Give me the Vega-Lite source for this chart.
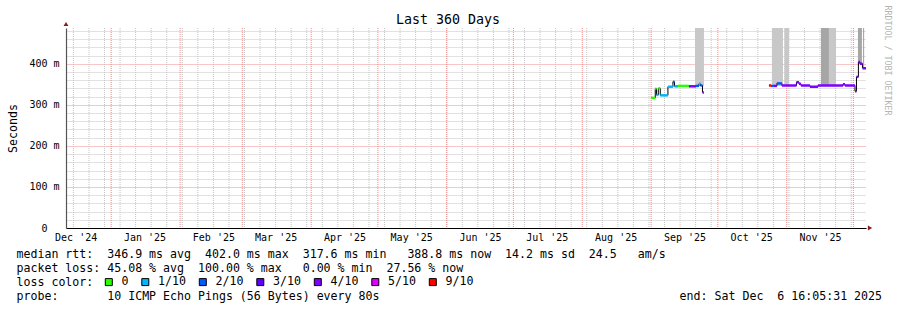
{
  "$schema": "https://vega.github.io/schema/vega-lite/v6.json",
  "width": 800,
  "height": 200,
  "autosize": {"type": "none"},
  "padding": {"left": 66, "top": 28, "right": 31, "bottom": 82},
  "background": "white",
  "title": {"text": "Last 360 Days", "font": "DejaVu Sans Mono", "fontSize": 13.3, "fontWeight": "normal", "color": "#000", "anchor": "middle", "dx": -18, "dy": 35, "offset": 3, "baseline": "alphabetic"},
  "datasets": {
    "median": [
      {"t": "2025-09-01T03:00Z", "t2": "2025-09-02T20:00Z", "v": 0.317, "loss": "0", "seg": 1},
      {"t": "2025-09-02T20:00Z", "t2": "2025-09-03T09:00Z", "v": 0.339, "loss": "0", "seg": 1},
      {"t": "2025-09-03T09:00Z", "t2": "2025-09-04T05:00Z", "v": 0.324, "loss": "1/10", "seg": 1},
      {"t": "2025-09-04T05:00Z", "t2": "2025-09-05T02:00Z", "v": 0.340, "loss": "0", "seg": 1},
      {"t": "2025-09-05T02:00Z", "t2": "2025-09-08T13:00Z", "v": 0.323, "loss": "1/10", "seg": 1},
      {"t": "2025-09-08T13:00Z", "t2": "2025-09-10T19:00Z", "v": 0.344, "loss": "1/10", "seg": 1},
      {"t": "2025-09-10T19:00Z", "t2": "2025-09-11T12:00Z", "v": 0.356, "loss": "2/10", "seg": 1},
      {"t": "2025-09-11T12:00Z", "t2": "2025-09-13T01:30Z", "v": 0.345, "loss": "1/10", "seg": 1},
      {"t": "2025-09-13T01:30Z", "t2": "2025-09-18T00:00Z", "v": 0.346, "loss": "0", "seg": 1},
      {"t": "2025-09-18T00:00Z", "t2": "2025-09-21T04:00Z", "v": 0.345, "loss": "4/10", "seg": 1},
      {"t": "2025-09-21T04:00Z", "t2": "2025-09-22T12:00Z", "v": 0.346, "loss": "2/10", "seg": 1},
      {"t": "2025-09-22T12:00Z", "t2": "2025-09-23T04:30Z", "v": 0.351, "loss": "1/10", "seg": 1},
      {"t": "2025-09-23T04:30Z", "t2": "2025-09-24T02:00Z", "v": 0.347, "loss": "2/10", "seg": 1},
      {"t": "2025-09-24T02:00Z", "t2": "2025-09-24T18:00Z", "v": 0.330, "loss": "4/10", "seg": 1},
      {"t": "2025-10-24T00:00Z", "t2": "2025-10-24T22:00Z", "v": 0.347, "loss": "9/10", "seg": 2},
      {"t": "2025-10-24T22:00Z", "t2": "2025-10-26T06:00Z", "v": 0.346, "loss": "2/10", "seg": 2},
      {"t": "2025-10-26T06:00Z", "t2": "2025-10-27T14:00Z", "v": 0.346, "loss": "4/10", "seg": 2},
      {"t": "2025-10-27T14:00Z", "t2": "2025-10-29T20:00Z", "v": 0.352, "loss": "2/10", "seg": 2},
      {"t": "2025-10-29T20:00Z", "t2": "2025-11-05T09:00Z", "v": 0.347, "loss": "4/10", "seg": 2},
      {"t": "2025-11-05T09:00Z", "t2": "2025-11-06T12:00Z", "v": 0.355, "loss": "4/10", "seg": 2},
      {"t": "2025-11-06T12:00Z", "t2": "2025-11-07T10:00Z", "v": 0.351, "loss": "4/10", "seg": 2},
      {"t": "2025-11-07T10:00Z", "t2": "2025-11-11T11:00Z", "v": 0.347, "loss": "4/10", "seg": 2},
      {"t": "2025-11-11T11:00Z", "t2": "2025-11-15T01:00Z", "v": 0.344, "loss": "4/10", "seg": 2},
      {"t": "2025-11-15T01:00Z", "t2": "2025-11-26T07:00Z", "v": 0.347, "loss": "4/10", "seg": 2},
      {"t": "2025-11-26T07:00Z", "t2": "2025-11-27T05:00Z", "v": 0.350, "loss": "4/10", "seg": 2},
      {"t": "2025-11-27T05:00Z", "t2": "2025-12-01T17:00Z", "v": 0.347, "loss": "4/10", "seg": 2},
      {"t": "2025-12-01T17:00Z", "t2": "2025-12-02T09:00Z", "v": 0.333, "loss": "4/10", "seg": 2},
      {"t": "2025-12-02T09:00Z", "t2": "2025-12-03T06:00Z", "v": 0.368, "loss": "4/10", "seg": 2},
      {"t": "2025-12-03T06:00Z", "t2": "2025-12-03T23:00Z", "v": 0.404, "loss": "4/10", "seg": 2},
      {"t": "2025-12-03T23:00Z", "t2": "2025-12-05T02:00Z", "v": 0.400, "loss": "4/10", "seg": 2},
      {"t": "2025-12-05T02:00Z", "t2": "2025-12-06T16:00Z", "v": 0.389, "loss": "4/10", "seg": 2}
    ],
    "smoke": [
      {"t": "2025-09-20T17:00Z", "t2": "2025-09-24T18:00Z", "lo": 0.345, "hi": 0.6, "density": "sparse"},
      {"t": "2025-10-25T08:00Z", "t2": "2025-10-30T07:00Z", "lo": 0.346, "hi": 0.6, "density": "sparse"},
      {"t": "2025-10-30T21:00Z", "t2": "2025-11-02T00:00Z", "lo": 0.346, "hi": 0.6, "density": "sparse"},
      {"t": "2025-11-16T10:00Z", "t2": "2025-11-20T00:00Z", "lo": 0.346, "hi": 0.6, "density": "dense"},
      {"t": "2025-11-20T00:00Z", "t2": "2025-11-23T04:00Z", "lo": 0.346, "hi": 0.6, "density": "sparse"},
      {"t": "2025-12-03T01:00Z", "t2": "2025-12-04T20:00Z", "lo": 0.400, "hi": 0.6, "density": "dense"},
      {"t": "2025-12-05T08:00Z", "t2": "2025-12-05T20:00Z", "lo": 0.390, "hi": 0.6, "density": "dense"}
    ],
    "weeks": [
      {"t": "2024-12-15"}, {"t": "2024-12-22"}, {"t": "2024-12-29"}, {"t": "2025-01-05"}, {"t": "2025-01-12"},
      {"t": "2025-01-19"}, {"t": "2025-01-26"}, {"t": "2025-02-02"}, {"t": "2025-02-09"}, {"t": "2025-02-16"},
      {"t": "2025-02-23"}, {"t": "2025-03-02"}, {"t": "2025-03-09"}, {"t": "2025-03-16"}, {"t": "2025-03-23"},
      {"t": "2025-03-30"}, {"t": "2025-04-06"}, {"t": "2025-04-13"}, {"t": "2025-04-20"}, {"t": "2025-04-27"},
      {"t": "2025-05-04"}, {"t": "2025-05-11"}, {"t": "2025-05-18"}, {"t": "2025-05-25"}, {"t": "2025-06-01"},
      {"t": "2025-06-08"}, {"t": "2025-06-15"}, {"t": "2025-06-22"}, {"t": "2025-06-29"}, {"t": "2025-07-06"},
      {"t": "2025-07-13"}, {"t": "2025-07-20"}, {"t": "2025-07-27"}, {"t": "2025-08-03"}, {"t": "2025-08-10"},
      {"t": "2025-08-17"}, {"t": "2025-08-24"}, {"t": "2025-08-31"}, {"t": "2025-09-07"}, {"t": "2025-09-14"},
      {"t": "2025-09-21"}, {"t": "2025-09-28"}, {"t": "2025-10-05"}, {"t": "2025-10-12"}, {"t": "2025-10-19"},
      {"t": "2025-10-26"}, {"t": "2025-11-02"}, {"t": "2025-11-09"}, {"t": "2025-11-16"}, {"t": "2025-11-23"},
      {"t": "2025-11-30"}
    ],
    "months": [
      {"t": "2025-01-01"}, {"t": "2025-02-01"}, {"t": "2025-03-01"}, {"t": "2025-04-01"}, {"t": "2025-05-01"},
      {"t": "2025-06-01"}, {"t": "2025-07-01"}, {"t": "2025-08-01"}, {"t": "2025-09-01"}, {"t": "2025-10-01"},
      {"t": "2025-11-01"}, {"t": "2025-12-01"}
    ]
  },
  "layer": [
    {
      "data": {"name": "weeks"},
      "mark": {"type": "rule", "color": "#c4c4c4", "strokeWidth": 1, "strokeDash": [1, 1]},
      "encoding": {
        "x": {"field": "t", "type": "temporal", "scale": {"type": "utc", "nice": false, "domain": [{"year": 2024, "month": 12, "date": 11, "hours": 16, "minutes": 5, "seconds": 31, "utc": true}, {"year": 2025, "month": 12, "date": 6, "hours": 16, "minutes": 5, "seconds": 31, "utc": true}]}}
      }
    },
    {
      "data": {"name": "months"},
      "mark": {"type": "rule", "color": "#f08c8c", "strokeWidth": 1, "strokeDash": [1, 1]},
      "encoding": {
        "x": {"field": "t", "type": "temporal", "scale": {"type": "utc", "nice": false, "domain": [{"year": 2024, "month": 12, "date": 11, "hours": 16, "minutes": 5, "seconds": 31, "utc": true}, {"year": 2025, "month": 12, "date": 6, "hours": 16, "minutes": 5, "seconds": 31, "utc": true}]}}
      }
    },
    {
      "data": {"name": "smoke"},
      "mark": {"type": "rect", "clip": true},
      "encoding": {
        "x": {
          "field": "t", "type": "temporal",
          "scale": {"type": "utc", "nice": false, "domain": [{"year": 2024, "month": 12, "date": 11, "hours": 16, "minutes": 5, "seconds": 31, "utc": true}, {"year": 2025, "month": 12, "date": 6, "hours": 16, "minutes": 5, "seconds": 31, "utc": true}]},
          "axis": {
            "values": [
              {"year": 2024, "month": 12, "date": 16, "utc": true}, {"year": 2025, "month": 1, "date": 16, "utc": true},
              {"year": 2025, "month": 2, "date": 16, "utc": true}, {"year": 2025, "month": 3, "date": 16, "utc": true},
              {"year": 2025, "month": 4, "date": 16, "utc": true}, {"year": 2025, "month": 5, "date": 16, "utc": true},
              {"year": 2025, "month": 6, "date": 16, "utc": true}, {"year": 2025, "month": 7, "date": 16, "utc": true},
              {"year": 2025, "month": 8, "date": 16, "utc": true}, {"year": 2025, "month": 9, "date": 16, "utc": true},
              {"year": 2025, "month": 10, "date": 16, "utc": true}, {"year": 2025, "month": 11, "date": 16, "utc": true}
            ],
            "labelExpr": "utcFormat(datum.value, \"%b '%y\")",
            "labelOverlap": false,
            "labelFlush": false,
            "labelAngle": 0,
            "labelFont": "DejaVu Sans Mono",
            "labelFontSize": 10,
            "labelColor": "#000",
            "labelPadding": 4,
            "ticks": false,
            "domain": true,
            "domainColor": "#000",
            "domainWidth": 1.2,
            "grid": false,
            "title": [
              "median rtt:\u00a0\u00a0346.9 ms avg\u00a0\u00a0402.0 ms max\u00a0\u00a0317.6 ms min\u00a0\u00a0\u00a0388.8 ms now\u00a0\u00a014.2 ms sd\u00a0\u00a024.5\u00a0\u00a0\u00a0am/s",
              "packet loss:\u00a045.08 % avg\u00a0\u00a0100.00 % max\u00a0\u00a0\u00a00.00 % min\u00a0\u00a027.56 % now",
              "loss color:",
              "probe:\u00a0\u00a0\u00a0\u00a0\u00a0\u00a0\u00a010 ICMP Echo Pings (56 Bytes) every 80s\u00a0\u00a0\u00a0\u00a0\u00a0\u00a0\u00a0\u00a0\u00a0\u00a0\u00a0\u00a0\u00a0\u00a0\u00a0\u00a0\u00a0\u00a0\u00a0\u00a0\u00a0\u00a0\u00a0\u00a0\u00a0\u00a0\u00a0\u00a0\u00a0\u00a0\u00a0\u00a0\u00a0\u00a0\u00a0\u00a0\u00a0\u00a0\u00a0\u00a0\u00a0\u00a0\u00a0end: Sat Dec\u00a0\u00a06 16:05:31 2025"
            ],
            "titleFont": "DejaVu Sans Mono",
            "titleFontSize": 11.6,
            "titleFontWeight": "normal",
            "titleColor": "#000",
            "titleAnchor": "start",
            "titleAlign": "left",
            "titleBaseline": "alphabetic",
            "titleX": -50,
            "titleY": 29,
            "titleLineHeight": 14
          }
        },
        "x2": {"field": "t2"},
        "y": {
          "field": "lo", "type": "quantitative",
          "scale": {"domain": [0, 0.487], "nice": false, "zero": false, "padding": 0},
          "axis": {
            "values": [0, 0.02, 0.04, 0.06, 0.08, 0.1, 0.12, 0.14, 0.16, 0.18, 0.2, 0.22, 0.24, 0.26, 0.28, 0.3, 0.32, 0.34, 0.36, 0.38, 0.4, 0.42, 0.44, 0.46, 0.48],
            "labelExpr": "round(datum.value * 1000) % 100 == 0 ? (datum.value == 0 ? '0\u00a0\u00a0\u200b' : format(datum.value * 1000, 'd') + ' m') : ''",
            "labelFont": "DejaVu Sans Mono",
            "labelFontSize": 10,
            "labelColor": "#000",
            "labelPadding": 7,
            "labelOverlap": false,
            "ticks": false,
            "domainColor": "#555",
            "domainWidth": 1.2,
            "grid": true,
            "gridDash": [1, 1],
            "gridColor": {"condition": {"test": "datum.value > 0 && round(datum.value * 1000) % 100 == 0", "value": "#f08c8c"}, "value": "#c4c4c4"},
            "title": "Seconds",
            "titleFont": "DejaVu Sans Mono",
            "titleFontSize": 11.6,
            "titleFontWeight": "normal",
            "titleColor": "#000",
            "titlePadding": 10
          }
        },
        "y2": {"field": "hi"},
        "fill": {"field": "density", "type": "nominal", "scale": {"domain": ["sparse", "dense"], "range": ["#c8c8c8", "#a6a6a6"]}, "legend": null}
      }
    },
    {
      "data": {"name": "median"},
      "mark": {"type": "line", "interpolate": "step-after", "color": "#000", "strokeWidth": 1},
      "encoding": {
        "x": {"field": "t", "type": "temporal", "scale": {"type": "utc", "nice": false, "domain": [{"year": 2024, "month": 12, "date": 11, "hours": 16, "minutes": 5, "seconds": 31, "utc": true}, {"year": 2025, "month": 12, "date": 6, "hours": 16, "minutes": 5, "seconds": 31, "utc": true}]}},
        "y": {"field": "v", "type": "quantitative", "scale": {"domain": [0, 0.487], "nice": false, "zero": false, "padding": 0}, "axis": null},
        "detail": {"field": "seg", "type": "nominal"}
      }
    },
    {
      "data": {"name": "median"},
      "mark": {"type": "bar", "orient": "horizontal", "height": 2.5},
      "encoding": {
        "x": {"field": "t", "type": "temporal", "scale": {"type": "utc", "nice": false, "domain": [{"year": 2024, "month": 12, "date": 11, "hours": 16, "minutes": 5, "seconds": 31, "utc": true}, {"year": 2025, "month": 12, "date": 6, "hours": 16, "minutes": 5, "seconds": 31, "utc": true}]}},
        "x2": {"field": "t2"},
        "y": {"field": "v", "type": "quantitative", "scale": {"domain": [0, 0.487], "nice": false, "zero": false, "padding": 0}, "axis": null},
        "color": {
          "field": "loss", "type": "nominal",
          "scale": {"domain": ["0", "1/10", "2/10", "3/10", "4/10", "5/10", "9/10"], "range": ["#26ff00", "#00b8ff", "#0059ff", "#5e00ff", "#7e00ff", "#dd00ff", "#ff0000"]},
          "legend": {
            "orient": "none", "legendX": 37, "legendY": 248, "direction": "horizontal", "title": null,
            "symbolType": "square", "symbolSize": 49, "symbolStrokeWidth": 1, "symbolStrokeColor": "#000", "symbolOpacity": 1,
            "labelFont": "DejaVu Sans Mono", "labelFontSize": 11.6, "labelColor": "#000", "labelOffset": 7,
            "columnPadding": 10.5, "padding": 0,
            "encode": {"symbols": {"update": {"stroke": {"value": "#000"}, "strokeWidth": {"value": 1}}}}
          }
        }
      }
    },
    {
      "data": {"values": [{}]},
      "mark": {"type": "point", "shape": "triangle-right", "filled": true, "color": "#8b1a1a", "size": 24, "opacity": 1, "xOffset": 4, "clip": false},
      "encoding": {
        "x": {"datum": {"year": 2025, "month": 12, "date": 6, "hours": 16, "minutes": 5, "seconds": 31, "utc": true}, "type": "temporal", "scale": {"type": "utc", "nice": false, "domain": [{"year": 2024, "month": 12, "date": 11, "hours": 16, "minutes": 5, "seconds": 31, "utc": true}, {"year": 2025, "month": 12, "date": 6, "hours": 16, "minutes": 5, "seconds": 31, "utc": true}]}},
        "y": {"datum": 0, "type": "quantitative", "scale": {"domain": [0, 0.487], "nice": false, "zero": false, "padding": 0}, "axis": null}
      }
    },
    {
      "data": {"values": [{}]},
      "mark": {"type": "point", "shape": "triangle-up", "filled": true, "color": "#8b1a1a", "size": 24, "opacity": 1, "yOffset": -4, "clip": false},
      "encoding": {
        "x": {"datum": {"year": 2024, "month": 12, "date": 11, "hours": 16, "minutes": 5, "seconds": 31, "utc": true}, "type": "temporal", "scale": {"type": "utc", "nice": false, "domain": [{"year": 2024, "month": 12, "date": 11, "hours": 16, "minutes": 5, "seconds": 31, "utc": true}, {"year": 2025, "month": 12, "date": 6, "hours": 16, "minutes": 5, "seconds": 31, "utc": true}]}},
        "y": {
          "datum": 0.487, "type": "quantitative", "scale": {"domain": [0, 0.487], "nice": false, "zero": false, "padding": 0},
          "axis": {"orient": "right", "title": "RRDTOOL / TOBI OETIKER", "domain": false, "ticks": false, "labels": false, "grid": false, "titleAngle": 90, "titleX": 20, "titleY": -23, "titleAlign": "left", "titleBaseline": "middle", "titleFont": "DejaVu Sans Mono", "titleFontSize": 8.3, "titleFontWeight": "normal", "titleColor": "#b4b4b4"}
        }
      }
    }
  ],
  "resolve": {"axis": {"y": "independent"}},
  "config": {"view": {"stroke": null}, "font": "DejaVu Sans Mono"}
}
